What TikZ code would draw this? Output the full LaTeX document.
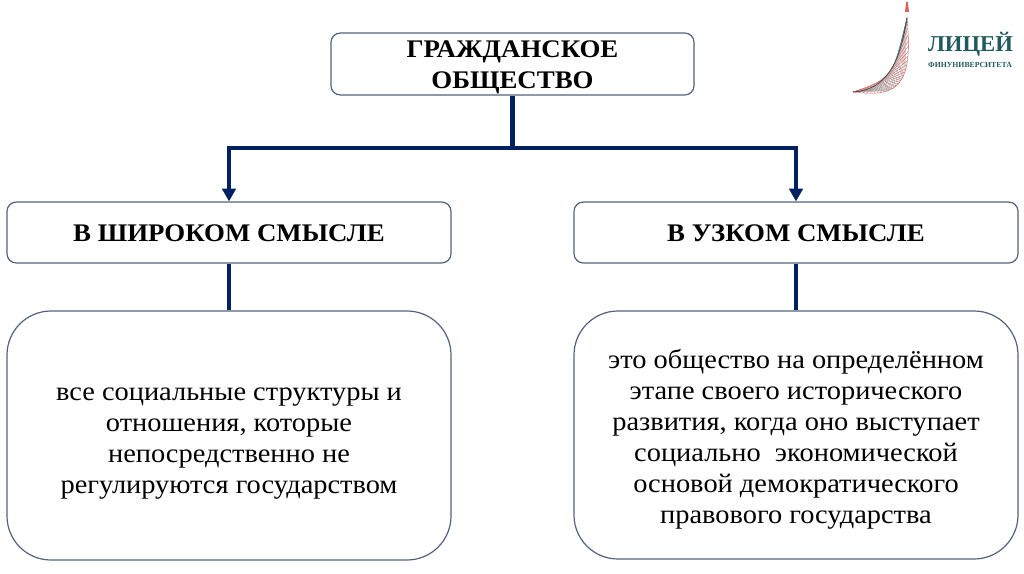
\documentclass[tikz,border=0pt]{standalone}
\usepackage{fontspec}
\setmainfont{Liberation Serif}
\newfontfamily\bodyf[FakeStretch=1.06]{Liberation Serif}
\usetikzlibrary{arrows.meta}
\definecolor{navy}{HTML}{002060}
\definecolor{edge}{HTML}{55617F}
\definecolor{teal}{HTML}{1F5A5C}
\definecolor{lred}{HTML}{D9605A}
\newcommand{\lowered}[2]{\raisebox{0pt}[\height][\dimexpr\depth-#1\relax]{\begin{tabular}{@{}c@{}}#2\end{tabular}}}
\tikzset{
  box/.style={draw=edge,line width=0.9pt,fill=white,rounded corners=#1,align=center,inner sep=0pt,text=black},
  head/.style={font=\bodyf\bfseries\fontsize{19}{23}\selectfont},
  body/.style={font=\bodyf\fontsize{20.1}{23.2}\selectfont},
  link/.style={draw=navy,line width=3.3pt},
  arrowed/.style={link,-{Triangle[length=9.5pt,width=10pt]}}
}
\begin{document}
\begin{tikzpicture}[x=0.75pt,y=-0.75pt]
\useasboundingbox (0,0) rectangle (1024,574);
\node[box=7pt,head,minimum width=272.25pt,minimum height=46.5pt] (top) at (512.5,64) {\lowered{4.5pt}{ГРАЖДАНСКОЕ\\ОБЩЕСТВО}};
\node[box=7pt,head,minimum width=333pt,minimum height=45.75pt] (wide) at (229,232.5) {\lowered{4.5pt}{В ШИРОКОМ СМЫСЛЕ}};
\node[box=7pt,head,minimum width=333pt,minimum height=45.75pt] (narrow) at (796,232.5) {\lowered{4.5pt}{В УЗКОМ СМЫСЛЕ}};
\node[box=33pt,body,minimum width=333pt,minimum height=186.75pt] (widetext) at (229,435.5) {\lowered{7.5pt}{все социальные структуры и\\отношения, которые\\непосредственно не\\регулируются государством}};
\node[box=33pt,body,minimum width=333pt,minimum height=186pt] (narrowtext) at (796,435) {\lowered{7.5pt}{это общество на определённом\\этапе своего исторического\\развития, когда оно выступает\\социально\ \ экономической\\основой демократического\\правового государства}};
\coordinate (hub) at (512.5,148);
\draw[link] (top.south) -- (hub);
\draw[arrowed] (hub) -| (wide.north);
\draw[arrowed] (hub) -| (narrow.north);
\draw[link] (wide.south) -- (widetext.north);
\draw[link] (narrow.south) -- (narrowtext.north);
% logo
\fill[lred] (906.2,2) -- (907.8,2) -- (909,12) -- (905,12) -- cycle;
\foreach \i in {0,...,30}{
  \pgfmathsetmacro{\t}{\i/30}
  \pgfmathsetmacro{\u}{min(1,\t+0.35)}
  \pgfmathsetmacro{\s}{max(0,\t-0.35)}
  \pgfmathsetmacro{\ax}{(1-\t)^3*853+3*(1-\t)^2*\t*885+3*(1-\t)*\t^2*900+\t^3*907}
  \pgfmathsetmacro{\ay}{(1-\t)^3*92+3*(1-\t)^2*\t*90+3*(1-\t)*\t^2*65+\t^3*18}
  \pgfmathsetmacro{\bx}{(1-\u)^3*853+3*(1-\u)^2*\u*895+3*(1-\u)*\u^2*914+\u^3*907}
  \pgfmathsetmacro{\by}{(1-\u)^3*92+3*(1-\u)^2*\u*97+3*(1-\u)*\u^2*90+\u^3*18}
  \pgfmathsetmacro{\cx}{(1-\s)^3*853+3*(1-\s)^2*\s*895+3*(1-\s)*\s^2*914+\s^3*907}
  \pgfmathsetmacro{\cy}{(1-\s)^3*92+3*(1-\s)^2*\s*97+3*(1-\s)*\s^2*90+\s^3*18}
  \draw[line width=0.16pt,draw=teal!60!gray] (\ax,\ay) -- (\bx,\by);
  \draw[line width=0.16pt,draw=lred] (\ax,\ay) -- (\cx,\cy);
}
\draw[line width=0.4pt,draw=teal!85!black] (853,92) .. controls (885,90) and (900,65) .. (907,18);
\draw[line width=0.3pt,draw=lred] (853,92) .. controls (895,97) and (914,90) .. (907,18);
\node[font=\bfseries\fontsize{17}{18}\selectfont,text=teal,inner sep=0pt] (logotitle) at (970.5,44.5) {ЛИЦЕЙ};
\node[font=\bfseries\fontsize{5.8}{6}\selectfont,text=teal,inner sep=0pt] (logosub) at (970,64.5) {ФИНУНИВЕРСИТЕТА};
\end{tikzpicture}
\end{document}
